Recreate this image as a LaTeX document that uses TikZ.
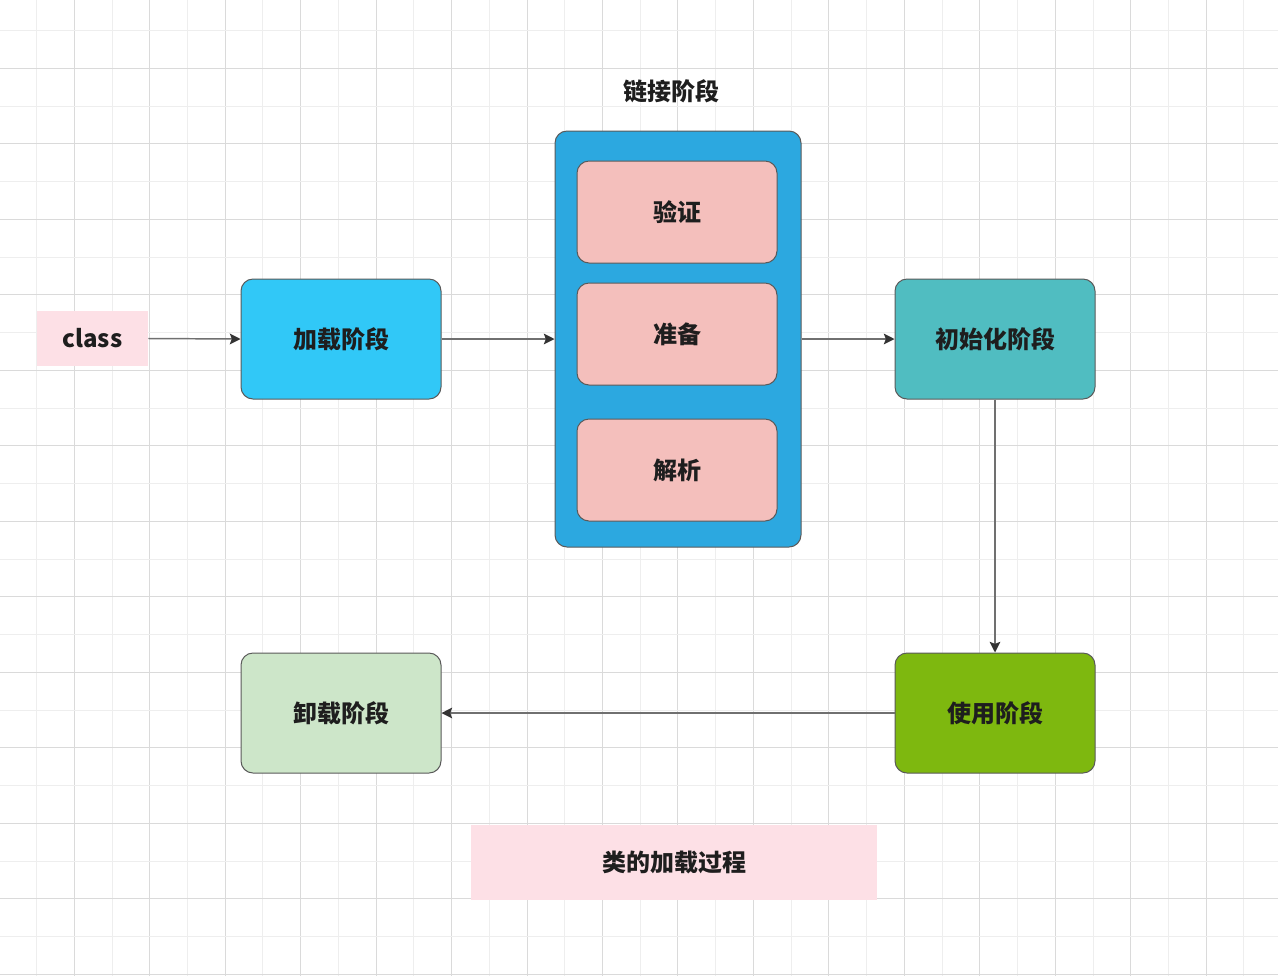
\documentclass[tikz,border=0pt]{standalone}
\usepackage{fontspec}
\newfontfamily\cjk{Noto Sans CJK SC}
\usetikzlibrary{arrows.meta}
\definecolor{gridminor}{HTML}{EEEEEE}
\definecolor{gridmajor}{HTML}{DADADA}
\definecolor{pinkbg}{HTML}{FDE0E6}
\definecolor{loadblue}{HTML}{31C8F7}
\definecolor{linkblue}{HTML}{2CA8E0}
\definecolor{subpink}{HTML}{F4BFBC}
\definecolor{initteal}{HTML}{50BDC1}
\definecolor{usegreen}{HTML}{7EB80F}
\definecolor{unloadgreen}{HTML}{CDE6C9}
\definecolor{edgegray}{HTML}{5A5A5A}
\definecolor{linegray}{HTML}{707070}
\definecolor{tipdark}{HTML}{333333}
\definecolor{textdark}{HTML}{1E1E1E}
\tikzset{
  lbl/.style={font=\cjk\bfseries\fontsize{18pt}{22pt}\selectfont, text=textdark},
  stage/.style={lbl, draw=edgegray, line width=0.75pt, rounded corners=9pt,
    minimum width=150pt, minimum height=90pt, inner sep=0pt},
  substage/.style={lbl, draw=edgegray, line width=0.75pt, rounded corners=9pt, fill=subpink,
    minimum width=150pt, minimum height=76.5pt, inner sep=0pt},
  flow/.style={draw=linegray, line width=1.1pt,
    -{Stealth[length=8pt,width=8pt,inset=1.5pt,color=tipdark]}}
}
\begin{document}
\begin{tikzpicture}[x=0.75pt,y=-0.75pt]
\fill[white] (0,0) rectangle (1278,976);
\useasboundingbox (0,0) rectangle (1278,976);
% grid
\foreach \i in {0,...,16} {
  \draw[gridminor, line width=0.75pt] ({36.6+\i*75.46},0) -- ({36.6+\i*75.46},976);
}
\foreach \i in {0,...,15} {
  \draw[gridmajor, line width=0.75pt] ({74.3+\i*75.46},0) -- ({74.3+\i*75.46},976);
}
\foreach \j in {0,...,12} {
  \draw[gridminor, line width=0.75pt] (0,{30.5+\j*75.5}) -- (1278,{30.5+\j*75.5});
  \draw[gridmajor, line width=0.75pt] (0,{68.3+\j*75.5}) -- (1278,{68.3+\j*75.5});
}
% nodes
\node[lbl, fill=pinkbg, minimum width=83.25pt, minimum height=41.25pt, inner sep=0pt] (cls) at (92.5,338.5) {class};
\node[stage, fill=loadblue] (load) at (341,339) {加载阶段};
\node[draw=edgegray, line width=0.75pt, rounded corners=9pt, fill=linkblue,
  minimum width=184.5pt, minimum height=312pt, inner sep=0pt] (link) at (678,339) {};
\node[lbl] (linkt) at (671,91) {链接阶段};
\node[substage] (verify) at (677,212) {验证};
\node[substage] (prepare) at (677,334) {准备};
\node[substage] (resolve) at (677,470) {解析};
\node[stage, fill=initteal] (init) at (995,339) {初始化阶段};
\node[stage, fill=usegreen] (use) at (995,713) {使用阶段};
\node[stage, fill=unloadgreen] (unload) at (341,713) {卸载阶段};
\node[lbl, fill=pinkbg, minimum width=304.5pt, minimum height=56.25pt, inner sep=0pt] (title) at (674,862.5) {类的加载过程};
% connectors
\draw[flow] (cls.east) -- (load.west);
\draw[flow] (load.east) -- (link.west);
\draw[flow] (link.east) -- (init.west);
\draw[flow] (init.south) -- (use.north);
\draw[flow] (use.west) -- (unload.east);
\end{tikzpicture}
\end{document}
